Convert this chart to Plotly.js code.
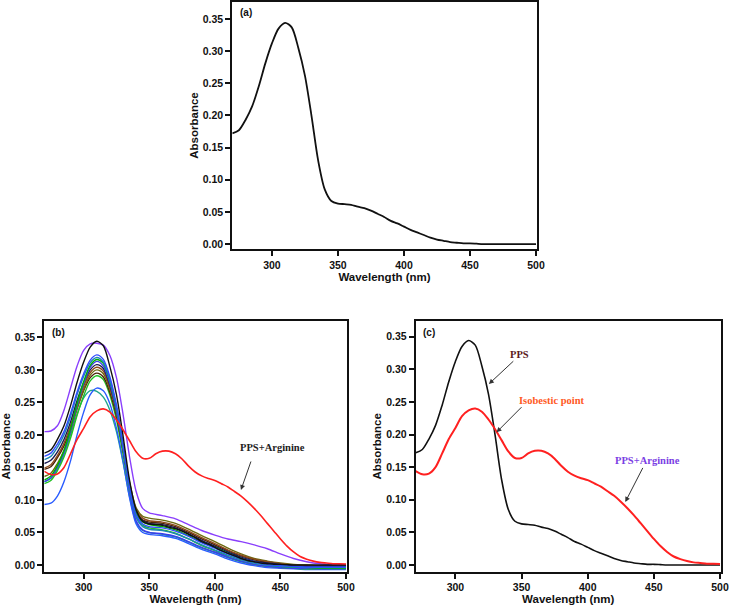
<!DOCTYPE html>
<html>
<head>
<meta charset="utf-8">
<script src="https://cdn.plot.ly/plotly-3.0.1.min.js"></script>
<style>html,body{margin:0;padding:0;background:#fff;}#chart{width:730px;height:608px;}</style>
</head>
<body>
<div id="chart"></div>
<script>
// Wavelength grid (nm) for PPS and PPS+Arginine
const wl = [270,275,280,285,290,295,300,305,310,315,320,325,330,335,340,345,350,355,360,365,370,375,380,385,390,395,400,405,410,415,420,425,430,435,440,445,450,455,460,465,470,475,480,485,490,495,500];
const pps = [0.172,0.177,0.193,0.214,0.245,0.281,0.312,0.335,0.344,0.337,0.305,0.262,0.199,0.130,0.085,0.067,0.063,0.062,0.061,0.058,0.056,0.052,0.047,0.042,0.036,0.032,0.027,0.022,0.018,0.014,0.010,0.007,0.005,0.003,0.002,0.001,0.001,0.0005,0,0,0,0,0,0,0,0,0];
const ppsArg = [0.144,0.139,0.140,0.150,0.171,0.193,0.210,0.228,0.237,0.240,0.235,0.223,0.208,0.191,0.174,0.164,0.164,0.171,0.175,0.175,0.171,0.163,0.152,0.143,0.137,0.133,0.130,0.125,0.120,0.113,0.106,0.097,0.087,0.076,0.064,0.052,0.040,0.029,0.020,0.013,0.009,0.006,0.004,0.003,0.002,0.002,0.0015];

// Titration spectra, panel (b)
const wlB = [270,275,280,285,290,295,300,305,310,315,320,325,330,335,340,345,350,360,370,380,390,400,410,420,430,440,450,460,470,480,490,500];
const sPurple = [0.205,0.206,0.214,0.238,0.272,0.306,0.330,0.340,0.341,0.338,0.322,0.288,0.232,0.166,0.113,0.087,0.080,0.076,0.071,0.062,0.053,0.046,0.040,0.036,0.031,0.025,0.017,0.010,0.005,0.002,0.001,0.0005];
const sBlue1 = [0.167,0.172,0.186,0.205,0.233,0.266,0.294,0.315,0.323,0.316,0.289,0.246,0.187,0.122,0.077,0.063,0.059,0.057,0.052,0.044,0.034,0.026,0.017,0.010,0.005,0.001,-0.001,-0.002,-0.003,-0.003,-0.003,-0.003];
const sTeal1 = [0.162,0.167,0.181,0.200,0.228,0.262,0.290,0.311,0.319,0.312,0.285,0.242,0.183,0.118,0.073,0.059,0.055,0.053,0.048,0.040,0.031,0.023,0.015,0.008,0.003,0.000,-0.002,-0.003,-0.004,-0.004,-0.004,-0.004];
const sGreen1 = [0.131,0.137,0.153,0.176,0.209,0.248,0.282,0.307,0.316,0.310,0.283,0.242,0.185,0.123,0.080,0.066,0.062,0.059,0.054,0.045,0.035,0.027,0.018,0.010,0.004,0.001,-0.002,-0.003,-0.004,-0.005,-0.005,-0.005];
const sBlue2 = [0.128,0.134,0.150,0.173,0.206,0.245,0.279,0.304,0.313,0.306,0.279,0.237,0.178,0.113,0.068,0.054,0.050,0.048,0.044,0.036,0.027,0.020,0.012,0.006,0.001,-0.002,-0.004,-0.005,-0.005,-0.006,-0.006,-0.006];
const sNavy = [0.156,0.161,0.174,0.193,0.220,0.253,0.280,0.300,0.308,0.302,0.276,0.237,0.182,0.123,0.081,0.068,0.064,0.062,0.057,0.048,0.038,0.029,0.020,0.012,0.006,0.003,0.001,-0.001,-0.002,-0.002,-0.002,-0.002];
const sBrown1 = [0.149,0.154,0.168,0.187,0.214,0.247,0.275,0.296,0.304,0.298,0.273,0.236,0.182,0.125,0.085,0.072,0.068,0.066,0.061,0.052,0.042,0.033,0.023,0.015,0.009,0.005,0.002,0.000,-0.001,-0.001,-0.001,-0.001];
const sOlive = [0.136,0.141,0.156,0.176,0.205,0.240,0.270,0.292,0.300,0.294,0.270,0.234,0.183,0.127,0.088,0.075,0.072,0.069,0.064,0.055,0.045,0.036,0.026,0.017,0.010,0.006,0.003,0.001,0.000,-0.001,-0.001,-0.001];
const sBrown2 = [0.147,0.151,0.165,0.183,0.209,0.241,0.268,0.288,0.295,0.289,0.265,0.229,0.177,0.121,0.082,0.069,0.066,0.064,0.059,0.050,0.040,0.031,0.022,0.014,0.008,0.004,0.001,-0.001,-0.002,-0.002,-0.003,-0.003];
const sGreen2 = [0.125,0.130,0.145,0.166,0.195,0.230,0.260,0.283,0.291,0.285,0.261,0.223,0.170,0.113,0.073,0.061,0.057,0.054,0.049,0.040,0.030,0.022,0.013,0.006,0.001,-0.002,-0.004,-0.005,-0.006,-0.006,-0.006,-0.006];
const sBlue3 = [0.093,0.095,0.106,0.128,0.160,0.200,0.235,0.262,0.272,0.268,0.248,0.210,0.160,0.103,0.063,0.050,0.047,0.045,0.041,0.033,0.024,0.017,0.009,0.003,-0.001,-0.004,-0.005,-0.006,-0.007,-0.007,-0.007,-0.007];
const sTeal2 = [0.128,0.133,0.148,0.170,0.200,0.232,0.257,0.268,0.267,0.258,0.238,0.205,0.158,0.105,0.066,0.053,0.050,0.047,0.043,0.035,0.026,0.019,0.011,0.005,0.001,-0.002,-0.003,-0.004,-0.005,-0.005,-0.005,-0.005];

const yTicks = [0,0.05,0.10,0.15,0.20,0.25,0.30,0.35];
const xTicks = [300,350,400,450,500];

const W = 730, H = 608;
const px = v => v / W;
const py = v => 1 - v / H;

const tickFont = {family: 'Liberation Sans, Arial, sans-serif', size: 10.5, color: '#111', weight: 'bold'};
const titleFont = {family: 'Liberation Sans, Arial, sans-serif', size: 11.5, color: '#111', weight: 'bold'};

function xAxis(dom, anchor) {
  return {domain: dom, anchor: anchor, range: [270, 500.5], tickvals: xTicks, ticks: 'outside', ticklen: 5, tickwidth: 2,
    tickcolor: '#111', showline: true, linecolor: '#111', linewidth: 2, mirror: true, showgrid: false, zeroline: false,
    tickfont: tickFont, title: {text: 'Wavelength (nm)', font: titleFont, standoff: 3}};
}
function yAxis(dom, anchor, rng) {
  return {domain: dom, anchor: anchor, range: rng, tickvals: yTicks, tickformat: '.2f', ticks: 'outside', ticklen: 5, tickwidth: 2,
    tickcolor: '#111', showline: true, linecolor: '#111', linewidth: 2, mirror: true, showgrid: false, zeroline: false,
    tickfont: tickFont, title: {text: 'Absorbance', font: titleFont, standoff: 2}};
}

function tr(x, y, color, xa, ya, w) {
  return {x: x, y: y, type: 'scatter', mode: 'lines', xaxis: xa, yaxis: ya,
    line: {color: color, width: w || 1.4, shape: 'spline', smoothing: 0.8}, hoverinfo: 'skip', showlegend: false};
}

const traces = [
  tr(wl, pps, '#111111', 'x', 'y', 1.8),
  tr(wlB, sTeal2, '#1fa58c', 'x2', 'y2'),
  tr(wlB, sBlue3, '#2a5cff', 'x2', 'y2'),
  tr(wlB, sGreen2, '#22c022', 'x2', 'y2'),
  tr(wlB, sBrown2, '#4a2208', 'x2', 'y2'),
  tr(wlB, sOlive, '#6e6a10', 'x2', 'y2'),
  tr(wlB, sBrown1, '#8b4a1c', 'x2', 'y2'),
  tr(wlB, sNavy, '#1a1a50', 'x2', 'y2'),
  tr(wlB, sBlue2, '#3c3cf0', 'x2', 'y2'),
  tr(wlB, sGreen1, '#00b000', 'x2', 'y2'),
  tr(wlB, sTeal1, '#1e86b4', 'x2', 'y2'),
  tr(wlB, sBlue1, '#2f4bff', 'x2', 'y2'),
  tr(wlB, sPurple, '#8a3ffc', 'x2', 'y2'),
  tr(wl, pps, '#111111', 'x2', 'y2'),
  tr(wl, ppsArg, '#ff2020', 'x2', 'y2', 1.6),
  tr(wl, pps, '#111111', 'x3', 'y3', 1.6),
  tr(wl, ppsArg, '#ff2020', 'x3', 'y3', 2)
];

const serif = c => ({family: 'Liberation Serif, Times New Roman, serif', size: 10.5, color: c, weight: 'bold'});
const lab = (t, xr, yr) => ({text: t, xref: xr, yref: yr, x: 0.018, y: 0.955, xanchor: 'left', yanchor: 'middle', showarrow: false,
  font: {family: 'Liberation Sans, Arial, sans-serif', size: 10, color: '#111', weight: 'bold'}});
const txt = (t, xr, yr, x, y, c) => ({text: t, xref: xr, yref: yr, x: x, y: y, showarrow: false, font: serif(c)});
const arr = (xr, yr, x0, y0, x1, y1) => ({text: '', xref: xr, yref: yr, axref: xr, ayref: yr, x: x1, y: y1, ax: x0, ay: y0,
  showarrow: true, arrowhead: 2, arrowsize: 1, arrowwidth: 1, arrowcolor: '#333'});

const layout = {
  width: W, height: H, margin: {l: 0, r: 0, t: 0, b: 0}, paper_bgcolor: '#fff', plot_bgcolor: '#fff', showlegend: false,
  xaxis: xAxis([px(232.3), px(536.7)], 'y'),
  yaxis: yAxis([py(249.3), py(1.7)], 'x', [-0.0082, 0.3769]),
  xaxis2: xAxis([px(44.3), px(346.7)], 'y2'),
  yaxis2: yAxis([py(571.7), py(321)], 'x2', [-0.0103, 0.3751]),
  xaxis3: xAxis([px(415.7), px(720.7)], 'y3'),
  yaxis3: yAxis([py(571.7), py(321)], 'x3', [-0.0103, 0.3740]),
  annotations: [
    lab('(a)', 'x domain', 'y domain'),
    lab('(b)', 'x2 domain', 'y2 domain'),
    lab('(c)', 'x3 domain', 'y3 domain'),
    txt('PPS+Arginine', 'x2', 'y2', 443.7, 0.1803, '#222'),
    arr('x2', 'y2', 427.9, 0.1614, 419.9, 0.1153),
    txt('PPS', 'x3', 'y3', 348.7, 0.3232, '#5c1a1a'),
    arr('x3', 'y3', 344.9, 0.3145, 325.3, 0.2774),
    txt('Isobestic point', 'x3', 'y3', 373.3, 0.2529, '#ff5a1f'),
    arr('x3', 'y3', 351.1, 0.2442, 331.1, 0.2035),
    txt('PPS+Arginine', 'x3', 'y3', 445, 0.1603, '#7b3fe4'),
    arr('x3', 'y3', 442.2, 0.1511, 428.4, 0.0966)
  ]
};

Plotly.newPlot('chart', traces, layout, {staticPlot: true, displayModeBar: false});
</script>
</body>
</html>
